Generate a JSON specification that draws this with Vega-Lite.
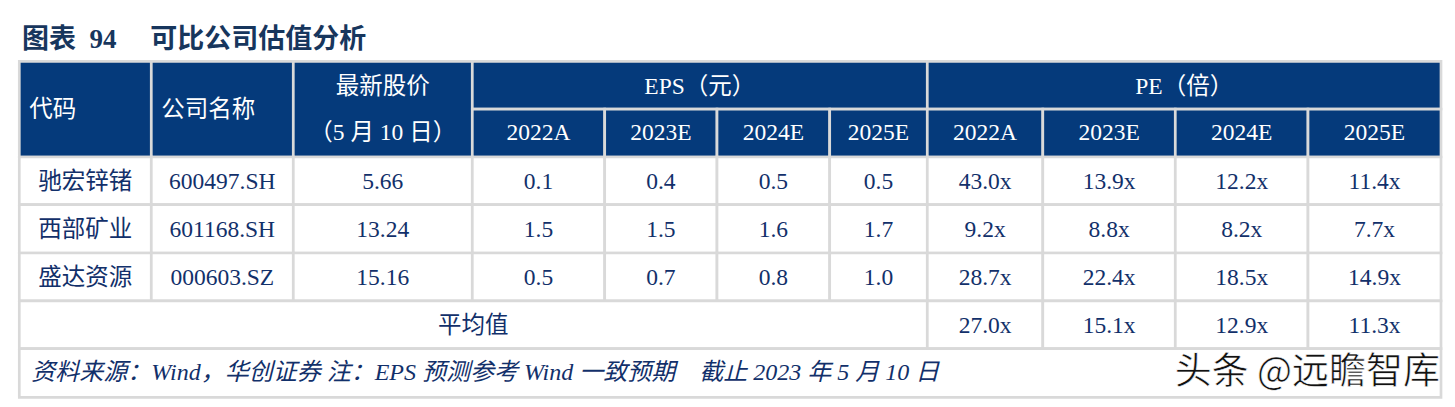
{
  "$schema": "https://vega.github.io/schema/vega-lite/v6.json",
  "width": 1455,
  "height": 346,
  "autosize": {"type": "none"},
  "padding": {"left": 0, "top": 61, "right": 0, "bottom": 0},
  "background": "white",
  "config": {"view": {"stroke": null}},
  "title": {
    "text": "图表\u00a0\u00a094\u00a0\u00a0\u00a0\u00a0\u00a0可比公司估值分析",
    "anchor": "start",
    "frame": "group",
    "dx": 22,
    "dy": 28,
    "offset": 13,
    "baseline": "alphabetic",
    "font": "Liberation Serif, Noto Sans CJK SC",
    "fontSize": 27,
    "fontWeight": "bold",
    "color": "#17365D"
  },
  "datasets": {
    "cells": [
      {"c0": 0, "c1": 1, "r0": 0, "r1": 2, "part": "header"},
      {"c0": 1, "c1": 2, "r0": 0, "r1": 2, "part": "header"},
      {"c0": 2, "c1": 3, "r0": 0, "r1": 2, "part": "header"},
      {"c0": 3, "c1": 7, "r0": 0, "r1": 1, "part": "header"},
      {"c0": 7, "c1": 11, "r0": 0, "r1": 1, "part": "header"},
      {"c0": 3, "c1": 4, "r0": 1, "r1": 2, "part": "header"},
      {"c0": 4, "c1": 5, "r0": 1, "r1": 2, "part": "header"},
      {"c0": 5, "c1": 6, "r0": 1, "r1": 2, "part": "header"},
      {"c0": 6, "c1": 7, "r0": 1, "r1": 2, "part": "header"},
      {"c0": 7, "c1": 8, "r0": 1, "r1": 2, "part": "header"},
      {"c0": 8, "c1": 9, "r0": 1, "r1": 2, "part": "header"},
      {"c0": 9, "c1": 10, "r0": 1, "r1": 2, "part": "header"},
      {"c0": 10, "c1": 11, "r0": 1, "r1": 2, "part": "header"},
      {"c0": 0, "c1": 1, "r0": 2, "r1": 3, "part": "body"},
      {"c0": 1, "c1": 2, "r0": 2, "r1": 3, "part": "body"},
      {"c0": 2, "c1": 3, "r0": 2, "r1": 3, "part": "body"},
      {"c0": 3, "c1": 4, "r0": 2, "r1": 3, "part": "body"},
      {"c0": 4, "c1": 5, "r0": 2, "r1": 3, "part": "body"},
      {"c0": 5, "c1": 6, "r0": 2, "r1": 3, "part": "body"},
      {"c0": 6, "c1": 7, "r0": 2, "r1": 3, "part": "body"},
      {"c0": 7, "c1": 8, "r0": 2, "r1": 3, "part": "body"},
      {"c0": 8, "c1": 9, "r0": 2, "r1": 3, "part": "body"},
      {"c0": 9, "c1": 10, "r0": 2, "r1": 3, "part": "body"},
      {"c0": 10, "c1": 11, "r0": 2, "r1": 3, "part": "body"},
      {"c0": 0, "c1": 1, "r0": 3, "r1": 4, "part": "body"},
      {"c0": 1, "c1": 2, "r0": 3, "r1": 4, "part": "body"},
      {"c0": 2, "c1": 3, "r0": 3, "r1": 4, "part": "body"},
      {"c0": 3, "c1": 4, "r0": 3, "r1": 4, "part": "body"},
      {"c0": 4, "c1": 5, "r0": 3, "r1": 4, "part": "body"},
      {"c0": 5, "c1": 6, "r0": 3, "r1": 4, "part": "body"},
      {"c0": 6, "c1": 7, "r0": 3, "r1": 4, "part": "body"},
      {"c0": 7, "c1": 8, "r0": 3, "r1": 4, "part": "body"},
      {"c0": 8, "c1": 9, "r0": 3, "r1": 4, "part": "body"},
      {"c0": 9, "c1": 10, "r0": 3, "r1": 4, "part": "body"},
      {"c0": 10, "c1": 11, "r0": 3, "r1": 4, "part": "body"},
      {"c0": 0, "c1": 1, "r0": 4, "r1": 5, "part": "body"},
      {"c0": 1, "c1": 2, "r0": 4, "r1": 5, "part": "body"},
      {"c0": 2, "c1": 3, "r0": 4, "r1": 5, "part": "body"},
      {"c0": 3, "c1": 4, "r0": 4, "r1": 5, "part": "body"},
      {"c0": 4, "c1": 5, "r0": 4, "r1": 5, "part": "body"},
      {"c0": 5, "c1": 6, "r0": 4, "r1": 5, "part": "body"},
      {"c0": 6, "c1": 7, "r0": 4, "r1": 5, "part": "body"},
      {"c0": 7, "c1": 8, "r0": 4, "r1": 5, "part": "body"},
      {"c0": 8, "c1": 9, "r0": 4, "r1": 5, "part": "body"},
      {"c0": 9, "c1": 10, "r0": 4, "r1": 5, "part": "body"},
      {"c0": 10, "c1": 11, "r0": 4, "r1": 5, "part": "body"},
      {"c0": 0, "c1": 7, "r0": 5, "r1": 6, "part": "body"},
      {"c0": 7, "c1": 8, "r0": 5, "r1": 6, "part": "body"},
      {"c0": 8, "c1": 9, "r0": 5, "r1": 6, "part": "body"},
      {"c0": 9, "c1": 10, "r0": 5, "r1": 6, "part": "body"},
      {"c0": 10, "c1": 11, "r0": 5, "r1": 6, "part": "body"},
      {"c0": 0, "c1": 11, "r0": 6, "r1": 7, "part": "body"}
    ],
    "ctext": [
      {"t": "EPS（元）", "col": 11, "row": 0, "part": "header"},
      {"t": "PE（倍）", "col": 12, "row": 0, "part": "header"},
      {"t": "最新股价", "col": 2, "row": 0, "part": "header"},
      {"t": "（5 月 10 日）", "col": 2, "row": 1, "part": "header"},
      {"t": "2022A", "col": 3, "row": 1, "part": "header"},
      {"t": "2023E", "col": 4, "row": 1, "part": "header"},
      {"t": "2024E", "col": 5, "row": 1, "part": "header"},
      {"t": "2025E", "col": 6, "row": 1, "part": "header"},
      {"t": "2022A", "col": 7, "row": 1, "part": "header"},
      {"t": "2023E", "col": 8, "row": 1, "part": "header"},
      {"t": "2024E", "col": 9, "row": 1, "part": "header"},
      {"t": "2025E", "col": 10, "row": 1, "part": "header"},
      {"t": "驰宏锌锗", "col": 0, "row": 2, "part": "body"},
      {"t": "600497.SH", "col": 1, "row": 2, "part": "body"},
      {"t": "5.66", "col": 2, "row": 2, "part": "body"},
      {"t": "0.1", "col": 3, "row": 2, "part": "body"},
      {"t": "0.4", "col": 4, "row": 2, "part": "body"},
      {"t": "0.5", "col": 5, "row": 2, "part": "body"},
      {"t": "0.5", "col": 6, "row": 2, "part": "body"},
      {"t": "43.0x", "col": 7, "row": 2, "part": "body"},
      {"t": "13.9x", "col": 8, "row": 2, "part": "body"},
      {"t": "12.2x", "col": 9, "row": 2, "part": "body"},
      {"t": "11.4x", "col": 10, "row": 2, "part": "body"},
      {"t": "西部矿业", "col": 0, "row": 3, "part": "body"},
      {"t": "601168.SH", "col": 1, "row": 3, "part": "body"},
      {"t": "13.24", "col": 2, "row": 3, "part": "body"},
      {"t": "1.5", "col": 3, "row": 3, "part": "body"},
      {"t": "1.5", "col": 4, "row": 3, "part": "body"},
      {"t": "1.6", "col": 5, "row": 3, "part": "body"},
      {"t": "1.7", "col": 6, "row": 3, "part": "body"},
      {"t": "9.2x", "col": 7, "row": 3, "part": "body"},
      {"t": "8.8x", "col": 8, "row": 3, "part": "body"},
      {"t": "8.2x", "col": 9, "row": 3, "part": "body"},
      {"t": "7.7x", "col": 10, "row": 3, "part": "body"},
      {"t": "盛达资源", "col": 0, "row": 4, "part": "body"},
      {"t": "000603.SZ", "col": 1, "row": 4, "part": "body"},
      {"t": "15.16", "col": 2, "row": 4, "part": "body"},
      {"t": "0.5", "col": 3, "row": 4, "part": "body"},
      {"t": "0.7", "col": 4, "row": 4, "part": "body"},
      {"t": "0.8", "col": 5, "row": 4, "part": "body"},
      {"t": "1.0", "col": 6, "row": 4, "part": "body"},
      {"t": "28.7x", "col": 7, "row": 4, "part": "body"},
      {"t": "22.4x", "col": 8, "row": 4, "part": "body"},
      {"t": "18.5x", "col": 9, "row": 4, "part": "body"},
      {"t": "14.9x", "col": 10, "row": 4, "part": "body"},
      {"t": "平均值", "col": 13, "row": 5, "part": "body"},
      {"t": "27.0x", "col": 7, "row": 5, "part": "body"},
      {"t": "15.1x", "col": 8, "row": 5, "part": "body"},
      {"t": "12.9x", "col": 9, "row": 5, "part": "body"},
      {"t": "11.3x", "col": 10, "row": 5, "part": "body"}
    ],
    "ltext": [
      {"t": "代码", "c": 0, "row": 0.5},
      {"t": "公司名称", "c": 1, "row": 0.5}
    ],
    "note": [
      {"t": "资料来源：Wind，华创证券 注：EPS 预测参考 Wind 一致预期\u00a0\u00a0\u00a0 截止 2023 年 5 月 10 日", "c": 0, "row": 6}
    ],
    "mark": [
      {"t": "头条 @远瞻智库", "c": 11, "row": 6}
    ]
  },
  "resolve": {"scale": {"x": "independent", "y": "independent", "color": "independent"}},
  "layer": [
    {
      "data": {"name": "cells"},
      "mark": {"type": "rect", "stroke": "#D9D9D9", "strokeWidth": 2.7},
      "encoding": {
        "x": {"field": "c0", "type": "quantitative", "axis": null,
              "scale": {"domain": [0,1,2,3,4,5,6,7,8,9,10,11], "range": [19.3,151.3,293.3,472.3,604.7,717,829.7,927.3,1042.8,1175.3,1308,1441], "nice": false, "zero": false}},
        "x2": {"field": "c1"},
        "y": {"field": "r0", "type": "quantitative", "axis": null,
              "scale": {"domain": [0,1,2,3,4,5,6,7], "range": [0.3,48.2,96,143.7,192,239.8,287.7,336.3], "nice": false, "zero": false}},
        "y2": {"field": "r1"},
        "color": {"field": "part", "type": "nominal", "legend": null,
                  "scale": {"domain": ["header", "body"], "range": ["#053A7B", "#FFFFFF"]}}
      }
    },
    {
      "data": {"name": "ctext"},
      "mark": {"type": "text", "align": "center", "baseline": "middle", "font": "Liberation Serif, Noto Sans CJK SC", "fontSize": 23.5},
      "encoding": {
        "x": {"field": "col", "type": "quantitative", "axis": null,
              "scale": {"domain": [0,1,2,3,4,5,6,7,8,9,10,11,12,13], "range": [85.3,222.3,382.8,538.5,660.9,773.4,878.5,985.1,1109.1,1241.7,1374.5,699.8,1184.2,473.3], "nice": false, "zero": false}},
        "y": {"field": "row", "type": "quantitative", "axis": null,
              "scale": {"domain": [0,1,2,3,4,5,6], "range": [25.5,71.5,120.5,168.5,216.5,264.5,312], "nice": false, "zero": false}},
        "text": {"field": "t", "type": "nominal"},
        "color": {"field": "part", "type": "nominal", "legend": null,
                  "scale": {"domain": ["header", "body"], "range": ["#FFFFFF", "#12306A"]}}
      }
    },
    {
      "data": {"name": "ltext"},
      "mark": {"type": "text", "align": "left", "baseline": "middle", "dx": 10, "font": "Liberation Serif, Noto Sans CJK SC", "fontSize": 23.5, "color": "#FFFFFF"},
      "encoding": {
        "x": {"field": "c", "type": "quantitative", "axis": null,
              "scale": {"domain": [0,1,2,3,4,5,6,7,8,9,10,11], "range": [19.3,151.3,293.3,472.3,604.7,717,829.7,927.3,1042.8,1175.3,1308,1441], "nice": false, "zero": false}},
        "y": {"field": "row", "type": "quantitative", "axis": null,
              "scale": {"domain": [0,1,2,3,4,5,6], "range": [25.5,71.5,120.5,168.5,216.5,264.5,312], "nice": false, "zero": false}},
        "text": {"field": "t", "type": "nominal"}
      }
    },
    {
      "data": {"name": "note"},
      "mark": {"type": "text", "align": "left", "baseline": "middle", "dx": 12, "font": "Liberation Serif, Noto Sans CJK SC", "fontSize": 24, "fontStyle": "italic", "color": "#12306A"},
      "encoding": {
        "x": {"field": "c", "type": "quantitative", "axis": null,
              "scale": {"domain": [0,1,2,3,4,5,6,7,8,9,10,11], "range": [19.3,151.3,293.3,472.3,604.7,717,829.7,927.3,1042.8,1175.3,1308,1441], "nice": false, "zero": false}},
        "y": {"field": "row", "type": "quantitative", "axis": null,
              "scale": {"domain": [0,1,2,3,4,5,6], "range": [25.5,71.5,120.5,168.5,216.5,264.5,312], "nice": false, "zero": false}},
        "text": {"field": "t", "type": "nominal"}
      }
    },
    {
      "data": {"name": "mark"},
      "mark": {"type": "text", "align": "right", "baseline": "middle", "dx": -1, "font": "Noto Sans CJK SC", "fontSize": 37, "color": "#111111", "stroke": "#FFFFFF", "strokeWidth": 0.6},
      "encoding": {
        "x": {"field": "c", "type": "quantitative", "axis": null,
              "scale": {"domain": [0,1,2,3,4,5,6,7,8,9,10,11], "range": [19.3,151.3,293.3,472.3,604.7,717,829.7,927.3,1042.8,1175.3,1308,1441], "nice": false, "zero": false}},
        "y": {"field": "row", "type": "quantitative", "axis": null,
              "scale": {"domain": [0,1,2,3,4,5,6], "range": [25.5,71.5,120.5,168.5,216.5,264.5,312], "nice": false, "zero": false}},
        "text": {"field": "t", "type": "nominal"}
      }
    }
  ]
}
